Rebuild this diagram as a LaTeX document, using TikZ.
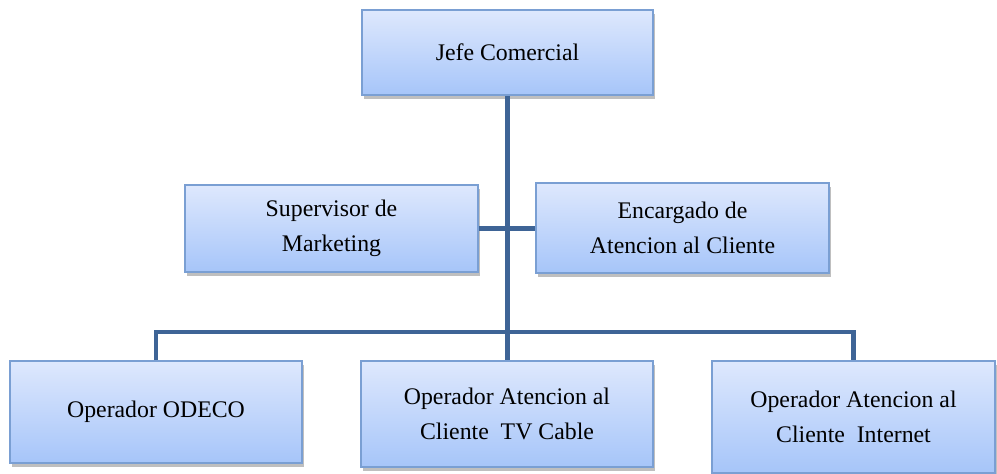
\documentclass[tikz,border=0pt]{standalone}
\usepackage{fontspec}
\setmainfont{Liberation Serif}
\usetikzlibrary{shadows}
\definecolor{cajaarriba}{RGB}{222,232,253}
\definecolor{cajaabajo}{RGB}{166,197,249}
\definecolor{cajaborde}{RGB}{122,159,211}
\definecolor{linea}{RGB}{62,100,150}
\tikzset{
  cargo/.style={draw=cajaborde, line width=0.8pt, top color=cajaarriba, bottom color=cajaabajo,
    align=center, inner sep=0pt, font=\fontsize{11.9}{17.5}\selectfont,
    drop shadow={opacity=0.5, shadow xshift=0.8pt, shadow yshift=-1.8pt}},
  enlace/.style={draw=linea, line width=2.2pt}
}
\begin{document}
\begin{tikzpicture}[x=0.5pt,y=-0.5pt]
    \useasboundingbox (0,0) rectangle (997,474);
    % jefe
    \node[cargo, minimum width=145.5pt, minimum height=42.5pt] (jefe) at (507.5,52.5) {Jefe Comercial};
    % segundo nivel
    \node[cargo, minimum width=146.5pt, minimum height=43.5pt] (sup) at (331.5,228.5) {Supervisor de\\Marketing};
    \node[cargo, minimum width=146.5pt, minimum height=45pt] (enc) at (682.5,228) {Encargado de\\Atencion al Cliente};
    % operadores
    \node[cargo, minimum width=146pt, minimum height=51pt] (odeco) at (156,412) {Operador ODECO};
    \node[cargo, minimum width=146pt, minimum height=53pt] (tv) at (507,414) {Operador Atencion al\\Cliente~ TV Cable};
    \node[cargo, minimum width=141.5pt, minimum height=56pt] (inet) at (853.5,417) {Operador Atencion al\\Cliente~ Internet};
    \coordinate (bus) at (507,332);
    % lineas
    \draw[enlace] (jefe.south) -- (jefe.south |- tv.north);
    \draw[enlace] (sup.east) -- (sup.east -| enc.west);
    \draw[enlace] (odeco.north) |- (bus) -| (inet.north);
  \end{tikzpicture}
\end{document}
